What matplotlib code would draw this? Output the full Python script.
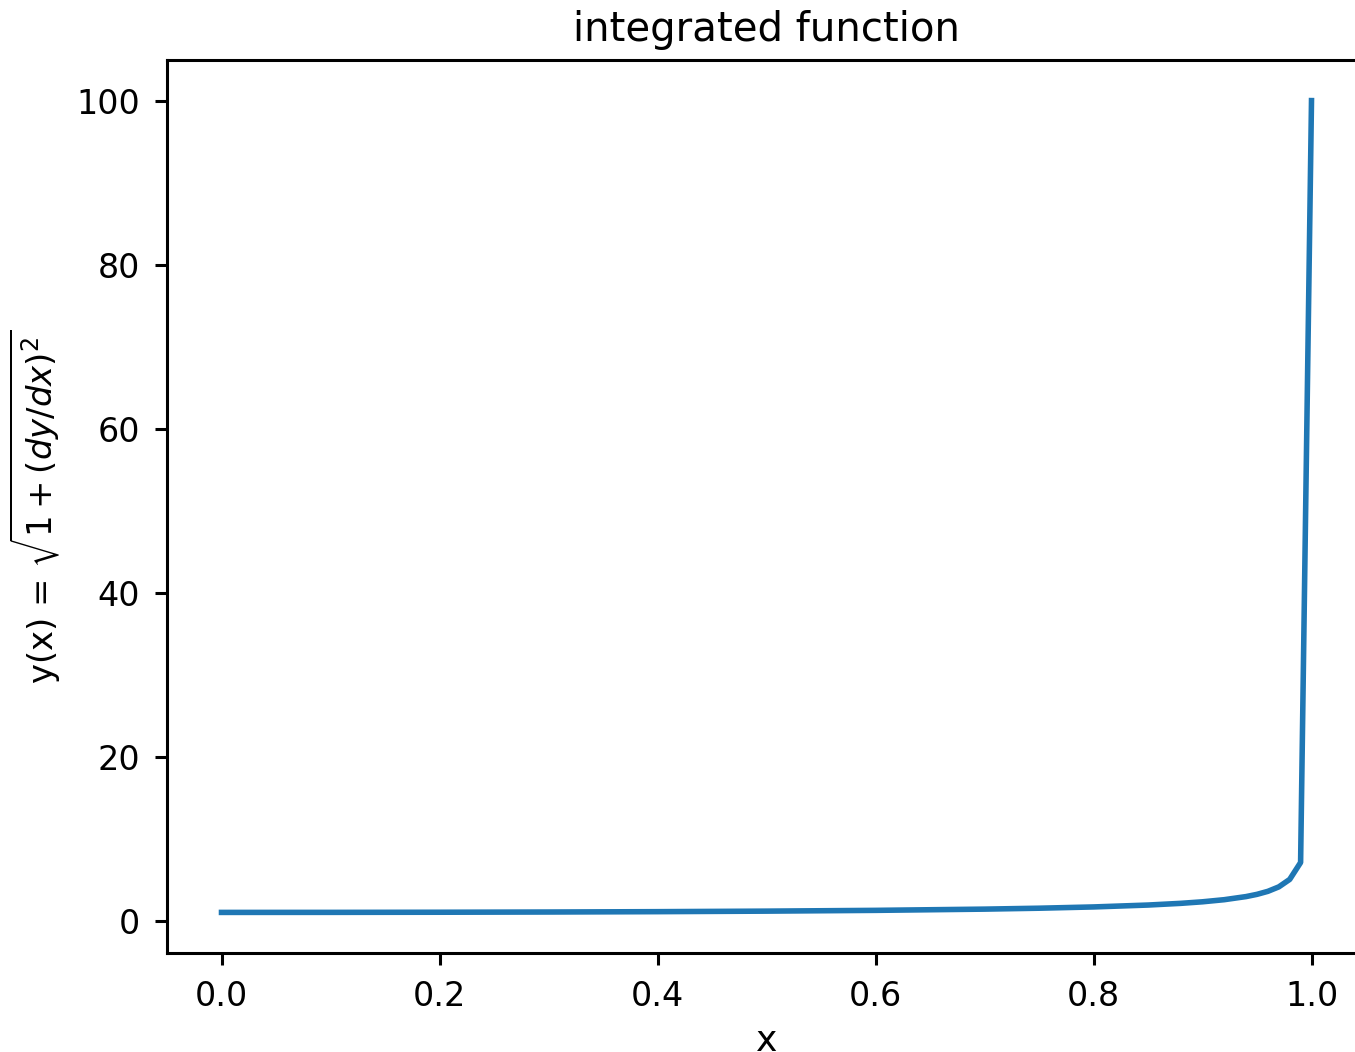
import numpy as np
import matplotlib
matplotlib.use("Agg")
import matplotlib.pyplot as plt

# sampled values of the integrand
x_vals = [0.0, 0.1, 0.2, 0.3, 0.4, 0.5, 0.6, 0.7, 0.75, 0.8, 0.85, 0.88,
          0.9, 0.92, 0.94, 0.95, 0.96, 0.97, 0.98, 0.99, 1.0]
y_vals = [1.0, 1.005, 1.021, 1.048, 1.091, 1.155, 1.25, 1.40, 1.512, 1.667,
          1.898, 2.105, 2.294, 2.552, 2.931, 3.203, 3.571, 4.113, 5.025,
          7.089, 100.0]

fig = plt.figure(figsize=(1355 / 200, 1052 / 200), dpi=200)
ax = fig.add_axes([167 / 1355, 1 - 953 / 1052, 1199 / 1355, 893 / 1052])

ax.plot(x_vals, y_vals, color="#1f77b4", lw=2.0)
ax.set_xlim(-0.05, 1.05)
ax.set_ylim(-3.95, 104.95)

for s in ax.spines.values():
    s.set_linewidth(1.1)
ax.tick_params(labelsize=12, length=4.4, width=1.1, pad=5.2)

ax.set_title("integrated function", fontsize=14.5, pad=7)
ax.set_xlabel("x", fontsize=13, labelpad=4)
ax.set_ylabel(r"y(x) = $\sqrt{1 + (dy/dx)^2}$", fontsize=12.2, labelpad=5)

fig.savefig("out.png", dpi=200)
